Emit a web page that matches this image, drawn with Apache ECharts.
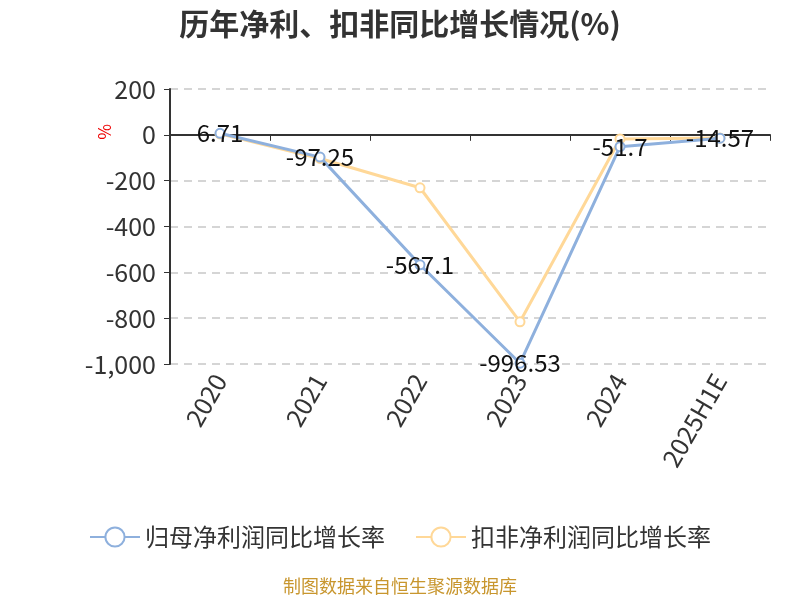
<!DOCTYPE html>
<html><head><meta charset="utf-8">
<script src="https://cdn.jsdelivr.net/npm/echarts@6/dist/echarts.min.js"></script>
<style>html,body{margin:0;padding:0;background:#fff}#c{width:800px;height:600px}</style>
</head><body><div id="c"></div>
<script>
const categories = ['2020','2021','2022','2023','2024','2025H1E'];
const netProfitGrowth = [6.71, -97.25, -567.1, -996.53, -51.7, -14.57];
const deductedGrowth = [4, -103, -231, -816, -18, -14];
const seriesNames = ['归母净利润同比增长率','扣非净利润同比增长率'];
const yTicks = {min: -1000, max: 200, interval: 200};

const chart = echarts.init(document.getElementById('c'));
const font = '"Microsoft YaHei","Noto Sans CJK SC","Noto Sans",sans-serif';
chart.setOption({
  animation: false,
  textStyle: {fontFamily: font},
  title: {text: '历年净利、扣非同比增长情况(%)', left: 'center', top: 4,
    textStyle: {fontSize: 30, fontWeight: 'bold', color: '#333', fontFamily: font}},
  grid: {left: 170, right: 30, top: 89, bottom: 236},
  legend: {bottom: 46, itemWidth: 50, itemHeight: 24, itemGap: 30,
    textStyle: {fontSize: 24, color: '#333', fontFamily: font},
    data: seriesNames},
  graphic: [
    {type: 'text', left: 'center', top: 577, style: {text: '制图数据来自恒生聚源数据库', fill: '#c8962e', fontSize: 18, fontFamily: font}},
    {type: 'text', x: 113, y: 124, rotation: -Math.PI/2, style: {text: '%', fill: '#e00', fontSize: 17, fontFamily: font}}
  ],
  xAxis: [{
    type: 'category', data: categories, boundaryGap: true,
    axisLine: {show: false, onZero: false}, axisTick: {show: false},
    axisLabel: {rotate: 60, fontSize: 25, color: '#333', margin: 12}
  }, {
    type: 'category', data: categories, boundaryGap: true, position: 'bottom',
    axisLine: {show: true, onZero: true, lineStyle: {color: '#333', width: 2}},
    axisTick: {show: true, length: 6, lineStyle: {color: '#333'}},
    axisLabel: {show: false}
  }],
  yAxis: {
    type: 'value', min: yTicks.min, max: yTicks.max, interval: yTicks.interval,
    axisLine: {show: true, lineStyle: {color: '#333', width: 2}},
    axisTick: {show: true, length: 6, lineStyle: {color: '#333'}},
    axisLabel: {fontSize: 25, color: '#333', margin: 14},
    splitLine: {lineStyle: {type: [8, 6], color: '#c8c8c8', width: 1.5}}
  },
  series: [{
    name: seriesNames[0], type: 'line', data: netProfitGrowth,
    symbol: 'emptyCircle', symbolSize: 9,
    lineStyle: {width: 3, color: '#8eb0dd'}, itemStyle: {color: '#8eb0dd', borderWidth: 2},
    label: {show: true, position: 'inside', fontSize: 24, color: '#111'},
    z: 3
  }, {
    name: seriesNames[1], type: 'line', data: deductedGrowth,
    symbol: 'emptyCircle', symbolSize: 9,
    lineStyle: {width: 3, color: '#ffd898'}, itemStyle: {color: '#ffd898', borderWidth: 2},
    z: 2
  }]
});
</script></body></html>
